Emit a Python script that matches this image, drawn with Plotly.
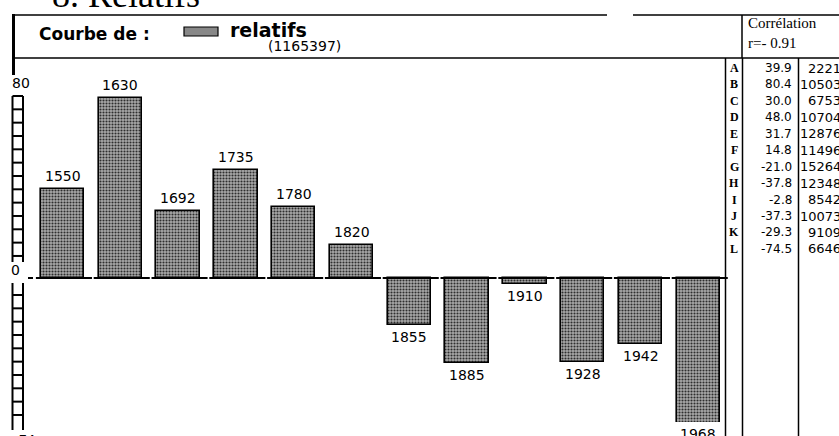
import plotly.graph_objects as go

# ---------------- data ----------------
years = ["1550", "1630", "1692", "1735", "1780", "1820",
         "1855", "1885", "1910", "1928", "1942", "1968"]
values = [39.9, 80.4, 30.0, 48.0, 31.7, 14.8,
          -21.0, -37.8, -2.8, -37.3, -29.3, -74.5]
row_letters = ["A", "B", "C", "D", "E", "F", "G", "H", "I", "J", "K", "L"]
row_counts = ["2221", "10503", "6753", "10704", "12876", "11496",
              "15264", "12348", "8542", "10073", "9109", "6646"]
axis_labels = ["80", "0", "-74"]
series_name = "relatifs"
series_total = "(1165397)"
header_label = "Courbe de :"
corr_title = "Corrélation"
corr_value = "r=- 0.91"
page_title = "8. Relatifs"

# ---------------- geometry helpers ----------------
W, H = 839, 436
PB = 422                       # bottom of plotting area in pixels
ZERO_PX = 278                  # pixel row of the zero line
PX_PER_UNIT = 2.24
C0, STEP = 62.5, 57.8          # first bar centre and bar pitch (px)


def px(x):
    return x / W


def py(y):
    return (PB - y) / PB


ymax = ZERO_PX / PX_PER_UNIT
ymin = -(PB - ZERO_PX) / PX_PER_UNIT
xmin = -C0 / STEP
xmax = (W - C0) / STEP

idx = list(range(len(values)))

fig = go.Figure()
fig.add_trace(go.Bar(
    x=idx, y=values, width=0.75,
    marker=dict(
        color="#888888",
        line=dict(color="black", width=1.6),
        pattern=dict(shape=".", fgcolor="#2e2e2e", bgcolor="#a9a9a9",
                     size=3, solidity=0.4, fillmode="replace"),
    ),
    hoverinfo="skip", showlegend=False,
))

shapes = []
annotations = []

# bar labels
for i, (yr, v) in enumerate(zip(years, values)):
    if v >= 0:
        annotations.append(dict(x=i, y=v, xref="x", yref="y", text=yr,
                                showarrow=False, yanchor="bottom", yshift=3,
                                font=dict(family="DejaVu Sans", size=14, color="black")))
    else:
        yy = max(v, ymin + 0.01)
        annotations.append(dict(x=i, y=yy, xref="x", yref="y", text=yr,
                                showarrow=False, yanchor="top", yshift=-2,
                                font=dict(family="DejaVu Sans", size=14, color="black")))

# segmented zero line
for i in idx:
    shapes.append(dict(type="line", xref="x", yref="y", x0=i - 0.46, x1=i + 0.51,
                       y0=0, y1=0, line=dict(color="black", width=2)))
shapes.append(dict(type="line", xref="paper", yref="y", x0=px(28), x1=px(33),
                   y0=0, y1=0, line=dict(color="black", width=2)))

# ladder-style axis (upper & lower)
LAD_L, LAD_R = 12.5, 23
RUNG = 13.33


def ladder(top, bottom, first_rung, last_rung):
    for xx in (LAD_L, LAD_R):
        shapes.append(dict(type="line", xref="paper", yref="paper",
                           x0=px(xx), x1=px(xx), y0=py(top), y1=py(bottom),
                           line=dict(color="black", width=2)))
    r = first_rung
    while r <= last_rung + 0.1:
        shapes.append(dict(type="line", xref="paper", yref="paper",
                           x0=px(LAD_L), x1=px(LAD_R), y0=py(r), y1=py(r),
                           line=dict(color="black", width=2)))
        r += RUNG


ladder(96, 262, 96, 256)
ladder(283, 430, 295, 416)

# axis labels
annotations.append(dict(x=px(10), y=py(93), xref="paper", yref="paper", text=axis_labels[0],
                        showarrow=False, xanchor="left", yanchor="bottom",
                        font=dict(family="DejaVu Sans", size=14, color="black")))
annotations.append(dict(x=px(9), y=py(280), xref="paper", yref="paper", text=axis_labels[1],
                        showarrow=False, xanchor="left", yanchor="bottom",
                        font=dict(family="DejaVu Sans", size=14, color="black")))
annotations.append(dict(x=px(12), y=py(430), xref="paper", yref="paper", text=axis_labels[2],
                        showarrow=False, xanchor="left", yanchor="top",
                        font=dict(family="DejaVu Sans", size=13, color="black")))

# header frame
shapes += [
    dict(type="line", xref="paper", yref="paper", x0=px(12), x1=px(607), y0=py(15), y1=py(15),
         line=dict(color="black", width=1.5)),
    dict(type="line", xref="paper", yref="paper", x0=px(633), x1=px(839), y0=py(15), y1=py(15),
         line=dict(color="black", width=1.5)),
    dict(type="line", xref="paper", yref="paper", x0=px(12), x1=px(839), y0=py(58), y1=py(58),
         line=dict(color="black", width=1.5)),
    dict(type="line", xref="paper", yref="paper", x0=px(13.5), x1=px(13.5), y0=py(14), y1=py(75),
         line=dict(color="black", width=3)),
    dict(type="line", xref="paper", yref="paper", x0=px(742), x1=px(742), y0=py(15), y1=py(58),
         line=dict(color="black", width=1.5)),
    # legend swatch
    dict(type="rect", xref="paper", yref="paper", x0=px(184), x1=px(218), y0=py(27), y1=py(36),
         fillcolor="#888888", line=dict(color="black", width=1.2)),
]

# table lines
for xx in (725.5, 742.5, 798.5):
    shapes.append(dict(type="line", xref="paper", yref="paper", x0=px(xx), x1=px(xx),
                       y0=py(58), y1=py(440), line=dict(color="black", width=1.5)))

# header texts
annotations += [
    dict(x=px(50), y=py(17), xref="paper", yref="paper", text=page_title, showarrow=False,
         xanchor="left", yanchor="bottom",
         font=dict(family="Liberation Serif", size=36, color="black")),
    dict(x=px(37), y=py(34), xref="paper", yref="paper", text="<b>" + header_label + "</b>",
         showarrow=False, xanchor="left", yanchor="middle",
         font=dict(family="DejaVu Sans", size=17, color="black")),
    dict(x=px(228), y=py(30), xref="paper", yref="paper", text="<b>" + series_name + "</b>",
         showarrow=False, xanchor="left", yanchor="middle",
         font=dict(family="DejaVu Sans", size=19, color="black")),
    dict(x=px(266), y=py(46), xref="paper", yref="paper", text=series_total,
         showarrow=False, xanchor="left", yanchor="middle",
         font=dict(family="DejaVu Sans", size=14, color="black")),
    dict(x=px(746), y=py(23), xref="paper", yref="paper", text=corr_title,
         showarrow=False, xanchor="left", yanchor="middle",
         font=dict(family="Liberation Serif", size=15, color="black")),
    dict(x=px(746), y=py(43), xref="paper", yref="paper", text=corr_value,
         showarrow=False, xanchor="left", yanchor="middle",
         font=dict(family="Liberation Serif", size=15, color="black")),
]

# table rows
ROW0, ROWSTEP = 68, 16.45
for i, (lt, v, c) in enumerate(zip(row_letters, values, row_counts)):
    yy = py(ROW0 + ROWSTEP * i)
    annotations.append(dict(x=px(734), y=yy, xref="paper", yref="paper", text="<b>" + lt + "</b>",
                            showarrow=False, xanchor="center", yanchor="middle",
                            font=dict(family="Liberation Serif", size=12, color="black")))
    annotations.append(dict(x=px(794), y=yy, xref="paper", yref="paper", text=f"{v:.1f}",
                            showarrow=False, xanchor="right", yanchor="middle",
                            font=dict(family="DejaVu Sans", size=12, color="black")))
    annotations.append(dict(x=px(843), y=yy, xref="paper", yref="paper", text=c,
                            showarrow=False, xanchor="right", yanchor="middle",
                            font=dict(family="DejaVu Sans", size=13, color="black")))

fig.update_layout(
    width=W, height=H,
    margin=dict(l=0, r=0, t=0, b=H - PB, pad=0),
    paper_bgcolor="white", plot_bgcolor="white",
    xaxis=dict(range=[xmin, xmax], visible=False, fixedrange=True),
    yaxis=dict(range=[ymin, ymax], visible=False, fixedrange=True),
    shapes=shapes, annotations=annotations,
    bargap=0,
)

fig.write_html("out.html", config={"displayModeBar": False},
               post_script="document.body.style.margin='0';document.body.style.overflow='hidden';")
